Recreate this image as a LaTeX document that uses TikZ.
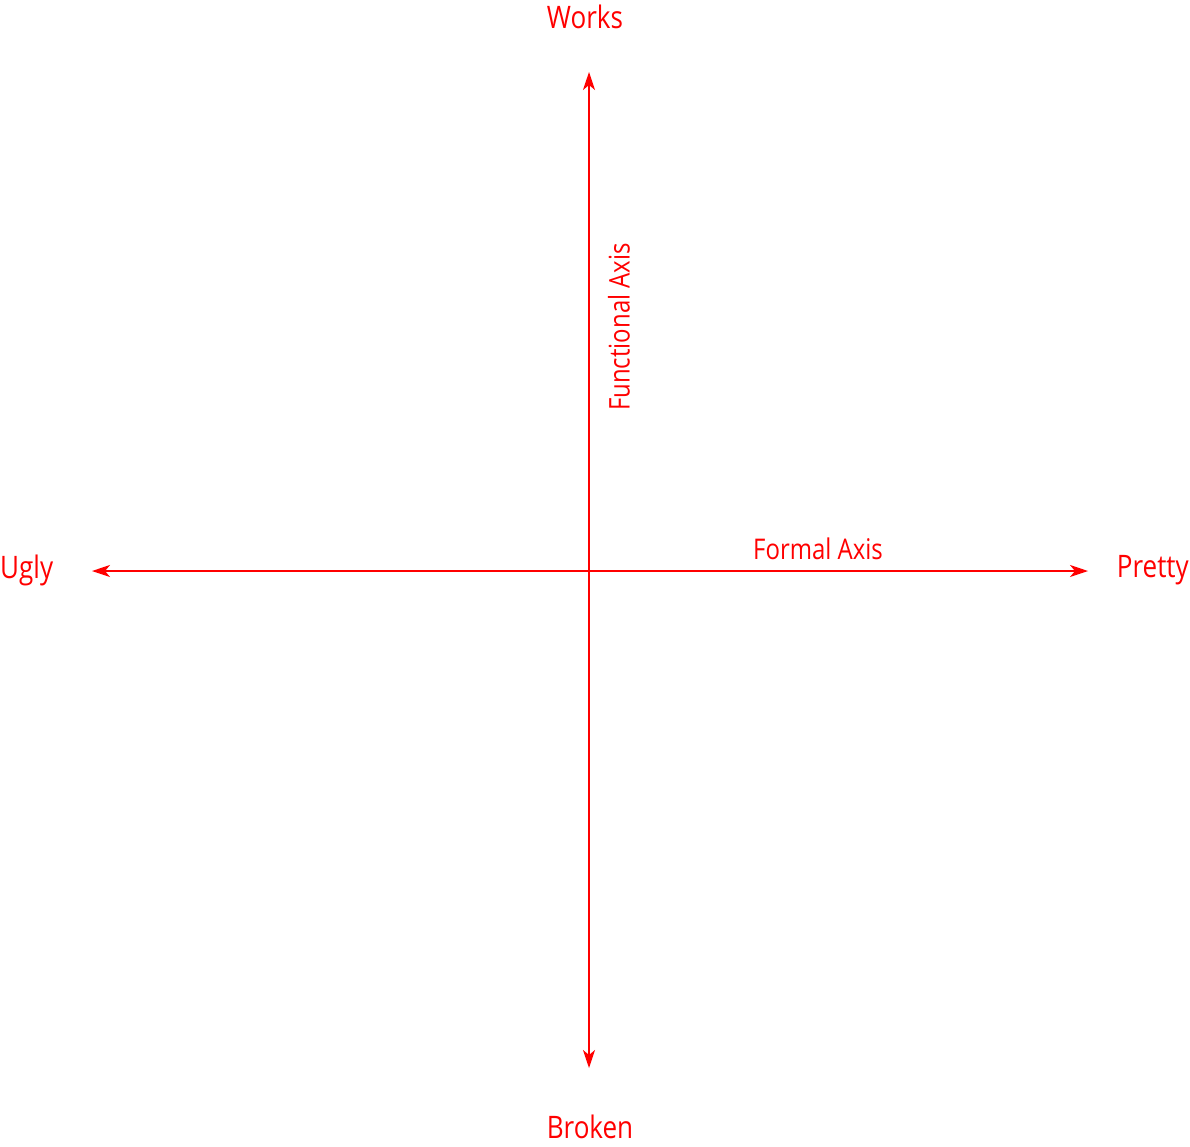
\documentclass[tikz,border=0pt]{standalone}
\usepackage{fontspec}
\setmainfont[FakeStretch=0.84]{Open Sans}
\usetikzlibrary{arrows.meta}
\definecolor{axisred}{RGB}{255,0,0}
\tikzset{
  axis/.style={draw=axisred, line width=1.6pt, {Stealth[length=18pt,width=12pt,inset=5pt]}-{Stealth[length=18pt,width=12pt,inset=5pt]}},
  lbl/.style={text=axisred, font=\fontsize{31}{36}\selectfont, inner sep=0pt},
  axlbl/.style={text=axisred, font=\fontsize{28.5}{33}\selectfont, inner sep=0pt}
}
\begin{document}
\begin{tikzpicture}[x=1pt,y=-1pt]
\useasboundingbox (0,0) rectangle (1190,1146);
\coordinate (top) at (589,72);
\coordinate (bottom) at (589,1068);
\coordinate (left) at (92,571);
\coordinate (right) at (1088,571);
\draw[axis] (bottom) -- (top);
\draw[axis] (left) -- (right);
\node[lbl] (works) at (585,17) {Works};
\node[lbl] (broken) at (590,1127) {Broken};
\node[lbl, anchor=west] (ugly) at (0,570) {Ugly};
\node[lbl, anchor=east] (pretty) at (1189,570) {Pretty};
\node[axlbl] (formal) at (818,549) {Formal Axis};
\node[axlbl, rotate=90] (functional) at (619,327) {Functional Axis};
\end{tikzpicture}
\end{document}
